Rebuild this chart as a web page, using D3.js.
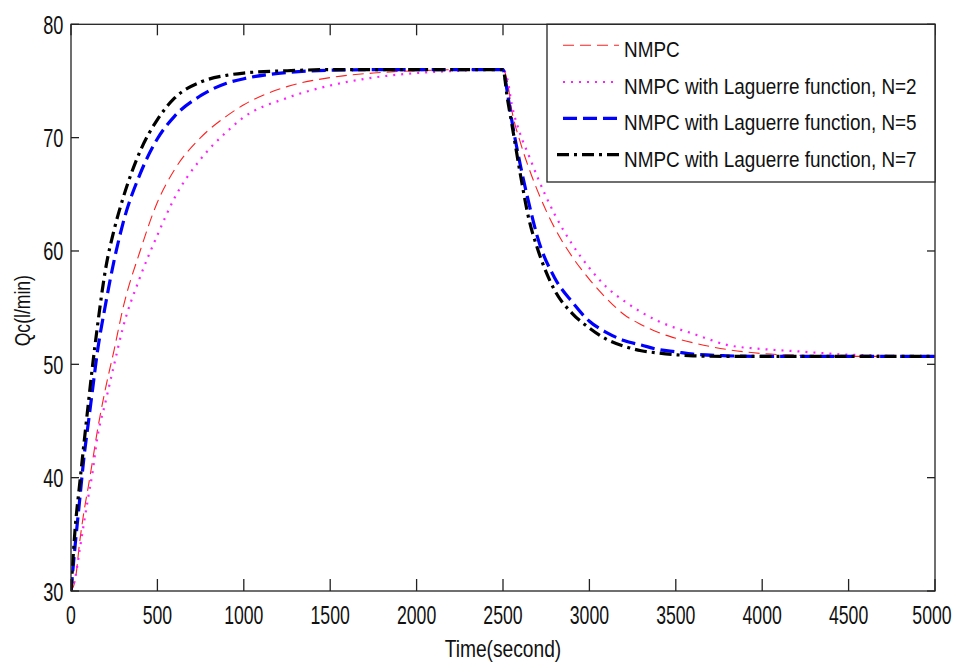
<!DOCTYPE html>
<html><head><meta charset="utf-8">
<script src="https://cdn.jsdelivr.net/npm/d3@7"></script>
<style>
html,body{margin:0;padding:0;background:#fff;}
svg{display:block;font-family:"Liberation Sans",Arial,sans-serif;}
</style></head>
<body>
<svg id="chart" width="957" height="664"></svg>
<script>
// ---- data ----
const times = [0,25,50,75,100,125,150,200,250,300,400,500,600,750,900,1000,1250,1500,1750,2000,2250,2500,
  2525,2550,2600,2650,2700,2800,2900,3000,3100,3200,3300,3400,3500,3600,3800,4000,4200,4500,5000];
const nmpc = [30,31,34.3,37,39.2,41.5,43.9,47.9,51.3,54.9,60,64.3,67.2,70.0,71.9,72.9,74.5,75.3,75.7,75.9,76,76,
  75,72.5,69.6,67.3,65.3,62,59.5,57.5,55.8,54.4,53.5,52.8,52.3,51.9,51.3,50.95,50.8,50.7,50.7];
const lagN2 = [30,31.2,33.6,36,38.3,40.5,43.3,46.7,50,53.2,57.7,61.4,64.7,68.1,70.5,71.8,73.5,74.6,75.3,75.7,75.9,76,
  75.2,73,70.3,68.4,66.5,63.2,60.6,58.5,56.8,55.6,54.6,53.8,53.2,52.7,51.7,51.35,51.15,50.85,50.7];
const lagN5 = [30,34.2,38,41.8,44.8,47.8,50.8,55.3,59.2,62.4,66.8,69.9,71.9,73.7,74.8,75.2,75.75,75.95,76,76,76,76,
  74,71.6,67.6,64.2,61.2,57.6,55.5,53.8,52.8,52.1,51.7,51.3,51.1,50.9,50.75,50.7,50.7,50.7,50.7];
const lagN7 = [30,35.7,39.4,43.0,46.5,49.9,53,58.4,61.9,64.6,68.8,71.6,73.5,74.9,75.5,75.7,75.9,76,76,76,76,76,
  73.5,71.3,66.8,62.8,60.2,56.5,54.5,53.2,52.2,51.6,51.2,51.0,50.85,50.75,50.7,50.7,50.7,50.7,50.7];
const legendLabels = ["NMPC","NMPC with Laguerre function, N=2","NMPC with Laguerre function, N=5","NMPC with Laguerre function, N=7"];
const xTicks = [0,500,1000,1500,2000,2500,3000,3500,4000,4500,5000];
const yTicks = [30,40,50,60,70,80];

const series = [
  {name:legendLabels[0], values:nmpc,  color:"#ff2020", width:1.1, dash:"11,6"},
  {name:legendLabels[1], values:lagN2, color:"#ff20ff", width:2.2, dash:"2,6"},
  {name:legendLabels[2], values:lagN5, color:"#0000ff", width:3.2, dash:"14,6"},
  {name:legendLabels[3], values:lagN7, color:"#000000", width:3.2, dash:"12,5,3,5"}
];

const svg = d3.select("#chart");
const L = 71, R = 935, T = 24.3, B = 591;
const x = d3.scaleLinear().domain([0,5000]).range([L,R]);
const y = d3.scaleLinear().domain([30,80]).range([B,T]);

// text narrowed horizontally with a transform (the reference font is condensed)
function placeText(g, str, cx, baseline, size, factor, anchor){
  const wrap = g.append("g");
  const t = wrap.append("text").attr("font-size", size).attr("fill","#111").attr("x",0).attr("y",0).text(str);
  const n = t.node().getComputedTextLength()*factor;
  let xx = cx;
  if(anchor==="middle") xx = cx - n/2;
  else if(anchor==="end") xx = cx - n;
  wrap.attr("transform", `translate(${xx},${baseline}) scale(${factor},1)`);
  return t;
}

// curves
const line = d3.line().x((d,i)=>x(times[i])).y(d=>y(d)).curve(d3.curveMonotoneX);
const plot = svg.append("g");
plot.append("clipPath").attr("id","clip").append("rect").attr("x",L).attr("y",T).attr("width",R-L).attr("height",B-T);
const cg = plot.append("g").attr("clip-path","url(#clip)");
series.forEach(s=>{
  cg.append("path").attr("d", line(s.values)).attr("fill","none")
    .attr("stroke", s.color).attr("stroke-width", s.width).attr("stroke-dasharray", s.dash);
});

// axes frame & ticks
const ax = svg.append("g").attr("stroke","#222").attr("stroke-width",1.3);
ax.append("rect").attr("x",L).attr("y",T).attr("width",R-L).attr("height",B-T).attr("fill","none");
xTicks.forEach(v=>{
  ax.append("line").attr("x1",x(v)).attr("x2",x(v)).attr("y1",B).attr("y2",B-12);
  ax.append("line").attr("x1",x(v)).attr("x2",x(v)).attr("y1",T).attr("y2",T+11);
});
yTicks.forEach(v=>{
  ax.append("line").attr("x1",L).attr("x2",L+8).attr("y1",y(v)).attr("y2",y(v));
  ax.append("line").attr("x1",R).attr("x2",R-8).attr("y1",y(v)).attr("y2",y(v));
});

const tg = svg.append("g");
xTicks.forEach(v=>{ placeText(tg, String(v), Math.min(x(v), 932), 624, 26, 0.68, "middle"); });
yTicks.forEach(v=>{ placeText(tg, String(v), 63.5, y(v)+9.5, 26, 0.7, "end"); });

// axis titles
placeText(tg, "Time(second)", x(2500), 657, 24, 0.8, "middle");
const yt = tg.append("g").attr("transform", `translate(30,${(T+B)/2+3}) rotate(-90)`);
placeText(yt, "Qc(l/min)", 0, 0, 22, 0.8, "middle");

// legend
const lg = svg.append("g");
lg.append("rect").attr("x",547).attr("y",T).attr("width",R-547).attr("height",182-T)
  .attr("fill","#fff").attr("stroke","#222").attr("stroke-width",1.3);
const baselines = [57.3, 94, 130.3, 166.7];
series.forEach((s,i)=>{
  const yy = baselines[i]-12;
  lg.append("line").attr("x1", i===3?557:563).attr("x2",619).attr("y1",yy).attr("y2",yy)
    .attr("stroke",s.color).attr("stroke-width",s.width).attr("stroke-dasharray",s.dash);
  placeText(lg, s.name, 624, baselines[i], 22, 0.86, "start");
});
</script>
</body></html>
